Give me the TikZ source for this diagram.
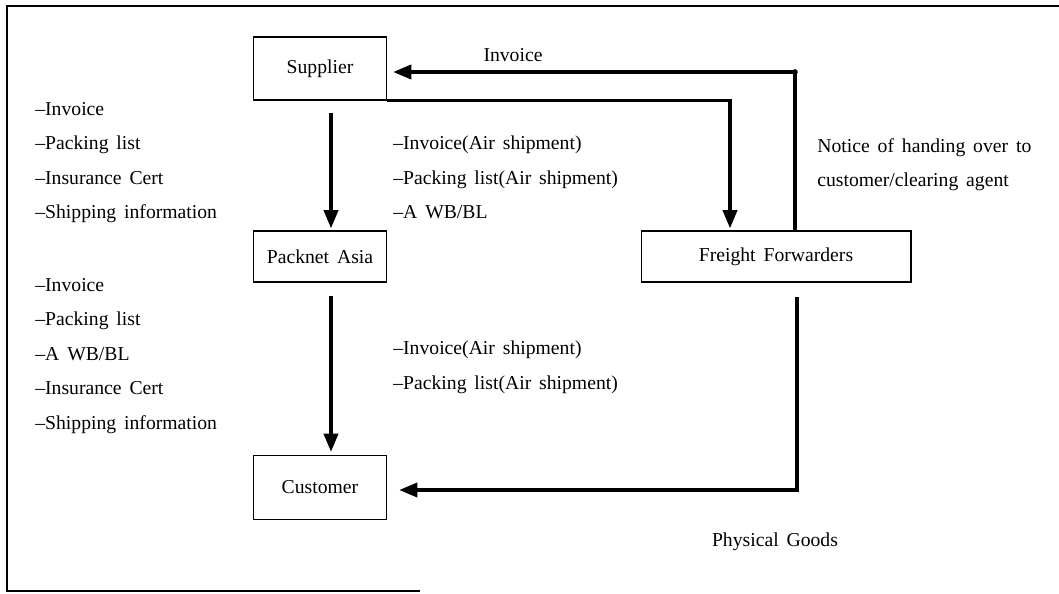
\documentclass[tikz,border=0pt]{standalone}
\usepackage{fontspec}
\setmainfont{Liberation Serif}[WordSpace=1.6]
\usetikzlibrary{calc,arrows.meta}

\begin{document}
\begin{tikzpicture}[x=0.02cm,y=-0.02cm,
    font=\fontsize{11.2}{19.6}\selectfont,
    box/.style={draw, line width=0.6pt, inner sep=0pt},
    flow/.style={line width=2.2pt, -{Triangle[length=10.5pt,width=8pt]}},
    lbl/.style={anchor=west, inner sep=0pt, align=left}]

    \useasboundingbox (0,0) rectangle (1059,594);

    % Frame
    \draw[line width=0.6pt] (1059,6) -- (7,6) -- (7,591) -- (420,591);

    % Boxes
    \node[box, minimum width=2.66cm, minimum height=1.26cm] (sup)  at (320,68.5)  {Supplier};
    \node[box, minimum width=2.66cm, minimum height=1.02cm] (pack) at (320,256.5) {Packnet Asia};
    \node[box, minimum width=2.66cm, minimum height=1.28cm] (cus)  at (320,487.5) {Customer};
    \node[box, minimum width=5.4cm,  minimum height=1.02cm] (fwd)  at (776,256.5) {Freight Forwarders};

    % Document flow
    \draw[flow] ($(sup.south)+(11,12)$) -- ($(pack.north)+(11,-2)$);
    \draw[flow] ($(pack.south)+(11,13)$) -- ($(cus.north)+(11,-3)$);
    \draw[flow] (sup.south east) -| ($(fwd.north)+(-46,-2)$);

    % Notice back to supplier
    \coordinate (nt) at ($(fwd.north)+(19,0)$);
    \coordinate (ni) at ($(sup.east)+(6,3.5)$);
    \draw[flow] (nt) |- (ni);
    \fill (nt |- ni) circle (1.6pt);

    % Physical goods
    \draw[flow] ($(fwd.south)+(21,14)$) |- ($(cus.east)+(12,2.5)$);

    % Labels
    \node (inv) at (513,55) {Invoice};
    \node[lbl] (docsup) at (35,162.5)
      {--Invoice\\--Packing list\\--Insurance Cert\\--Shipping information};
    \node[lbl] (docpack) at (35,356)
      {--Invoice\\--Packing list\\--A WB/BL\\--Insurance Cert\\--Shipping information};
    \node[lbl] (airsup) at (393,177.5)
      {--Invoice(Air shipment)\\--Packing list(Air shipment)\\--A WB/BL};
    \node[lbl] (aircus) at (393,367.5)
      {--Invoice(Air shipment)\\--Packing list(Air shipment)};
    \node[lbl] (notice) at (817,164.5)
      {Notice of handing over to\\customer/clearing agent};
    \node (goods) at (775,542) {Physical Goods};
\end{tikzpicture}
\end{document}
